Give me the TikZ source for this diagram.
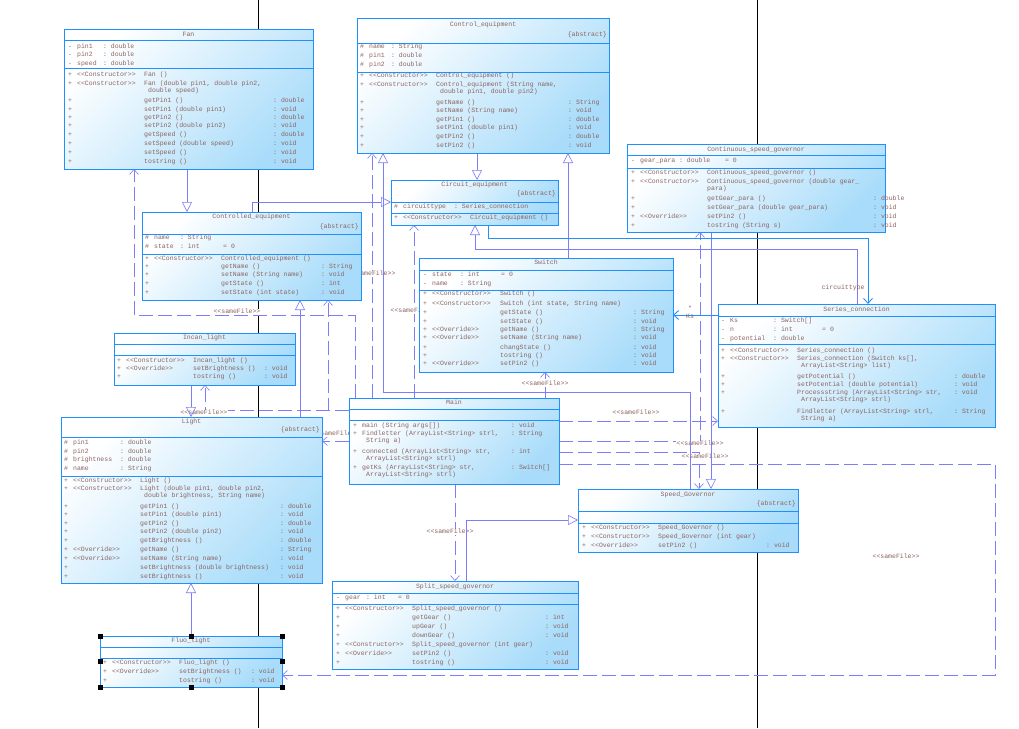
\documentclass[tikz,border=0pt]{standalone}
\usepackage{fontspec}
\setmonofont{Liberation Mono}
\usetikzlibrary{arrows.meta,calc}

\definecolor{clsedge}{RGB}{30,144,255}
\definecolor{clsfill}{RGB}{168,220,250}
\definecolor{clstext}{RGB}{140,100,96}
\definecolor{relline}{RGB}{125,125,250}

% column widths of a class compartment
\newcommand{\setcols}[3]{\def\stw{#1}\def\nmw{#2}\def\atw{#3}}
\newcommand{\mrow}[4]{\makebox[9pt][l]{#1}\makebox[\stw pt][l]{#2}\makebox[\nmw pt][l]{#3}#4}
\newcommand{\arow}[3]{\makebox[9pt][l]{#1}\makebox[\atw pt][l]{#2}#3}

\tikzset{
  cls/.style={draw=clsedge, line width=0.9pt, shading=axis, top color=white,
    bottom color=clsfill, shading angle=45, inner sep=0pt, outer sep=0pt, anchor=north west},
  sep/.style={clsedge, line width=0.9pt},
  txt/.style={font=\ttfamily\fontsize{6.5}{7}\selectfont, text=clstext, inner sep=0pt,
    anchor=west, text height=4.6pt, text depth=1.3pt},
  ttl/.style={txt, anchor=center},
  abst/.style={txt, anchor=east},
  lbl/.style={txt, anchor=center, fill=white, inner sep=0.5pt},
  gen/.style={relline, line width=0.6pt, -{Triangle[open, length=10pt, width=10pt]}},
  dep/.style={relline, line width=0.6pt, dash pattern=on 14pt off 5pt,
    -{Straight Barb[length=5pt, width=9pt]}},
  asc/.style={clsedge, line width=0.9pt, -{Straight Barb[length=5pt, width=9pt]}},
}

\begin{document}
\begin{tikzpicture}[x=1pt, y=-1pt]
  \path[use as bounding box, fill=white] (0,0) rectangle (1019,728);

  % page breaks
  \draw[black, line width=0.8pt] (258,0) -- (258,728);
  \draw[black, line width=0.8pt] (757,0) -- (757,728);

  % class frames (relations are drawn behind them)
  \path (64,29) coordinate (fan) (357,18) coordinate (ctrl) (627,144) coordinate (cont)
        (391,180) coordinate (circ) (142,212) coordinate (ctld) (419,258) coordinate (sw)
        (718,304) coordinate (ser) (114,333) coordinate (incan) (61,417) coordinate (light)
        (349,398) coordinate (main) (578,489) coordinate (spd) (332,581) coordinate (split)
        (100,636) coordinate (fluo);

  % Dependencies <<sameFile>>
  \draw[dep] (355,398) -- (355,315) -- (134,315) -- (134,169);
  \node[lbl] (d-fan) at (237,312) {<<sameFile>>};
  \draw[dep] (372,398) -- (372,153);
  \node[lbl] (d-ctrl) at (372,274) {<<sameFile>>};
  \draw[dep] (414,398) -- (414,225);
  \node[lbl] (d-circ) at (414,311) {<<sameFile>>};
  \draw[dep] (545,398) -- (545,372);
  \node[lbl] (d-sw) at (545,384) {<<sameFile>>};
  \draw[dep] (349,410) -- (328,410) -- (328,300);
  \draw[dep] (349,410) -- (205,410) -- (205,385);
  \node[lbl] (d-incan) at (204,413) {<<sameFile>>};
  \draw[dep] (349,441) -- (322,441);
  \node[lbl] (d-light) at (336,434) {<<sameFile>>};
  \draw[dep] (455,484) -- (455,581);
  \node[lbl] (d-split) at (450,532) {<<sameFile>>};
  \draw[dep] (559,421) -- (718,421);
  \node[lbl] (d-ser) at (636,413) {<<sameFile>>};
  \draw[dep] (559,441) -- (700,441) -- (700,232);
  \node[lbl] (d-cont) at (700,444) {<<sameFile>>};
  \draw[dep] (559,452) -- (699,452) -- (699,489);
  \node[lbl] (d-spd) at (705,457) {<<sameFile>>};
  \draw[dep] (559,464) -- (995,464) -- (995,675) -- (282,675);
  \node[lbl] (d-fluo) at (896,557) {<<sameFile>>};

  % Generalizations
  \draw[gen] (187,169) -- (187,212);
  \draw[gen] (252,212) |- (391,202);
  \draw[gen] (477,153) -- (477,180);
  \draw[gen] (568,258) -- (568,153);
  \draw[gen] (857,304) -- (857,249) -- (475,249) -- (475,225);
  \draw[gen] (300,417) -- (300,300);
  \draw[gen] (690,489) -- (690,392) -- (383,392) -- (383,153);
  \draw[gen] (711,232) -- (711,489);
  \draw[gen] (191,385) -- (191,417);
  \draw[gen] (191,636) -- (191,583);
  \draw[gen] (466,581) -- (466,520) -- (578,520);

  % Associations
  \draw[asc] (488,225) -- (488,238) -- (868,238) -- (868,304);
  \node[txt, anchor=center] (l-ct) at (843,288) {circuittype};
  \draw[asc] (718,315) -- (673,315);
  \node[txt, anchor=center] (l-m) at (690,309) {*};
  \node[txt, anchor=center] (l-ks) at (690,317) {Ks};

  % Fan
  \node[cls, minimum width=249, minimum height=140] (fan) at (fan) {};
  \draw[sep] (fan.west |- 0,40) -- (fan.east |- 0,40);
  \draw[sep] (fan.west |- 0,68) -- (fan.east |- 0,68);
  \node[ttl] (fan-t) at (188.5,34.5) {Fan};
  \setcols{67}{129}{26}
  \node[txt] (fan-a1) at (68,46.5) {\arow{-}{pin1}{: double}};
  \node[txt] (fan-a2) at (68,55) {\arow{-}{pin2}{: double}};
  \node[txt] (fan-a3) at (68,63.5) {\arow{-}{speed}{: double}};
  \node[txt] (fan-m1) at (68,74.7) {\mrow{+}{<<Constructor>>}{Fan ()}{}};
  \node[txt] (fan-m2) at (68,84) {\mrow{+}{<<Constructor>>}{Fan (double pin1, double pin2,}{}};
  \node[txt] (fan-m3) at (68,91) {\mrow{}{}{\hspace{4pt}double speed)}{}};
  \node[txt] (fan-m4) at (68,100.7) {\mrow{+}{}{getPin1 ()}{: double}};
  \node[txt] (fan-m5) at (68,109.7) {\mrow{+}{}{setPin1 (double pin1)}{: void}};
  \node[txt] (fan-m6) at (68,118.3) {\mrow{+}{}{getPin2 ()}{: double}};
  \node[txt] (fan-m7) at (68,126.3) {\mrow{+}{}{setPin2 (double pin2)}{: void}};
  \node[txt] (fan-m8) at (68,135.3) {\mrow{+}{}{getSpeed ()}{: double}};
  \node[txt] (fan-m9) at (68,144.3) {\mrow{+}{}{setSpeed (double speed)}{: void}};
  \node[txt] (fan-m10) at (68,153.3) {\mrow{+}{}{setSpeed ()}{: void}};
  \node[txt] (fan-m11) at (68,161.7) {\mrow{+}{}{tostring ()}{: void}};

  % Control_equipment
  \node[cls, minimum width=252, minimum height=135] (ctrl) at (ctrl) {};
  \draw[sep] (ctrl.west |- 0,43) -- (ctrl.east |- 0,43);
  \draw[sep] (ctrl.west |- 0,72) -- (ctrl.east |- 0,72);
  \node[ttl] (ctrl-t) at (483,25) {Control\_equipment};
  \node[abst] (ctrl-s) at (607,35) {\{abstract\}};
  \setcols{67}{132}{22}
  \node[txt] (ctrl-a1) at (360,47) {\arow{\#}{name}{: String}};
  \node[txt] (ctrl-a2) at (360,56) {\arow{\#}{pin1}{: double}};
  \node[txt] (ctrl-a3) at (360,65) {\arow{\#}{pin2}{: double}};
  \node[txt] (ctrl-m1) at (360,76) {\mrow{+}{<<Constructor>>}{Control\_equipment ()}{}};
  \node[txt] (ctrl-m2) at (360,85) {\mrow{+}{<<Constructor>>}{Control\_equipment (String name,}{}};
  \node[txt] (ctrl-m3) at (360,92) {\mrow{}{}{\hspace{4pt}double pin1, double pin2)}{}};
  \node[txt] (ctrl-m4) at (360,103) {\mrow{+}{}{getName ()}{: String}};
  \node[txt] (ctrl-m5) at (360,111) {\mrow{+}{}{setName (String name)}{: void}};
  \node[txt] (ctrl-m6) at (360,120) {\mrow{+}{}{getPin1 ()}{: double}};
  \node[txt] (ctrl-m7) at (360,128) {\mrow{+}{}{setPin1 (double pin1)}{: void}};
  \node[txt] (ctrl-m8) at (360,137) {\mrow{+}{}{getPin2 ()}{: double}};
  \node[txt] (ctrl-m9) at (360,146) {\mrow{+}{}{setPin2 ()}{: void}};

  % Continuous_speed_governor
  \node[cls, minimum width=258, minimum height=88] (cont) at (cont) {};
  \draw[sep] (cont.west |- 0,155) -- (cont.east |- 0,155);
  \draw[sep] (cont.west |- 0,168) -- (cont.east |- 0,168);
  \node[ttl] (cont-t) at (756,150) {Continuous\_speed\_governor};
  \setcols{67}{166}{39}
  \node[txt] (cont-a1) at (631,161) {\arow{-}{gear\_para}{\makebox[46pt][l]{: double}= 0}};
  \node[txt] (cont-m1) at (631,173) {\mrow{+}{<<Constructor>>}{Continuous\_speed\_governor ()}{}};
  \node[txt] (cont-m2) at (631,182) {\mrow{+}{<<Constructor>>}{Continuous\_speed\_governor (double gear\_}{}};
  \node[txt] (cont-m3) at (631,189) {\mrow{}{}{para)}{}};
  \node[txt] (cont-m4) at (631,199) {\mrow{+}{}{getGear\_para ()}{: double}};
  \node[txt] (cont-m5) at (631,208) {\mrow{+}{}{setGear\_para (double gear\_para)}{: void}};
  \node[txt] (cont-m6) at (631,217) {\mrow{+}{<<Override>>}{setPin2 ()}{: void}};
  \node[txt] (cont-m7) at (631,226) {\mrow{+}{}{tostring (String s)}{: void}};

  % Circuit_equipment
  \node[cls, minimum width=167, minimum height=45] (circ) at (circ) {};
  \draw[sep] (circ.west |- 0,202) -- (circ.east |- 0,202);
  \draw[sep] (circ.west |- 0,213) -- (circ.east |- 0,213);
  \node[ttl] (circ-t) at (474.5,185) {Circuit\_equipment};
  \node[abst] (circ-s) at (556,194) {\{abstract\}};
  \setcols{67}{100}{51}
  \node[txt] (circ-a1) at (394,207) {\arow{\#}{circuittype}{: Series\_connection}};
  \node[txt] (circ-m1) at (394,218) {\mrow{+}{<<Constructor>>}{Circuit\_equipment ()}{}};

  % Controlled_equipment
  \node[cls, minimum width=219, minimum height=88] (ctld) at (ctld) {};
  \draw[sep] (ctld.west |- 0,234) -- (ctld.east |- 0,234);
  \draw[sep] (ctld.west |- 0,254) -- (ctld.east |- 0,254);
  \node[ttl] (ctld-t) at (251.5,217) {Controlled\_equipment};
  \node[abst] (ctld-s) at (359,227) {\{abstract\}};
  \setcols{67}{100}{26}
  \node[txt] (ctld-a1) at (145,238) {\arow{\#}{name}{: String}};
  \node[txt] (ctld-a2) at (145,247) {\arow{\#}{state}{\makebox[43pt][l]{: int}= 0}};
  \node[txt] (ctld-m1) at (145,259) {\mrow{+}{<<Constructor>>}{Controlled\_equipment ()}{}};
  \node[txt] (ctld-m2) at (145,267) {\mrow{+}{}{getName ()}{: String}};
  \node[txt] (ctld-m3) at (145,275) {\mrow{+}{}{setName (String name)}{: void}};
  \node[txt] (ctld-m4) at (145,284) {\mrow{+}{}{getState ()}{: int}};
  \node[txt] (ctld-m5) at (145,293) {\mrow{+}{}{setState (int state)}{: void}};

  % Switch
  \node[cls, minimum width=254, minimum height=114] (sw) at (sw) {};
  \draw[sep] (sw.west |- 0,270) -- (sw.east |- 0,270);
  \draw[sep] (sw.west |- 0,290) -- (sw.east |- 0,290);
  \node[ttl] (sw-t) at (546,262.5) {Switch};
  \setcols{68}{133}{28}
  \node[txt] (sw-a1) at (423,275) {\arow{-}{state}{\makebox[41pt][l]{: int}= 0}};
  \node[txt] (sw-a2) at (423,284) {\arow{-}{name}{: String}};
  \node[txt] (sw-m1) at (423,294) {\mrow{+}{<<Constructor>>}{Switch ()}{}};
  \node[txt] (sw-m2) at (423,304) {\mrow{+}{<<Constructor>>}{Switch (int state, String name)}{}};
  \node[txt] (sw-m3) at (423,313) {\mrow{+}{}{getState ()}{: String}};
  \node[txt] (sw-m4) at (423,322) {\mrow{+}{}{setState ()}{: void}};
  \node[txt] (sw-m5) at (423,330) {\mrow{+}{<<Override>>}{getName ()}{: String}};
  \node[txt] (sw-m6) at (423,338) {\mrow{+}{<<Override>>}{setName (String name)}{: void}};
  \node[txt] (sw-m7) at (423,348) {\mrow{+}{}{changState ()}{: void}};
  \node[txt] (sw-m8) at (423,356) {\mrow{+}{}{tostring ()}{: void}};
  \node[txt] (sw-m9) at (423,364) {\mrow{+}{<<Override>>}{setPin2 ()}{: void}};

  % Series_connection
  \node[cls, minimum width=277, minimum height=123] (ser) at (ser) {};
  \draw[sep] (ser.west |- 0,316) -- (ser.east |- 0,316);
  \draw[sep] (ser.west |- 0,344) -- (ser.east |- 0,344);
  \node[ttl] (ser-t) at (856.5,310) {Series\_connection};
  \setcols{67}{157}{43}
  \node[txt] (ser-a1) at (721,321) {\arow{-}{Ks}{: Switch[]}};
  \node[txt] (ser-a2) at (721,330) {\arow{-}{n}{\makebox[49pt][l]{: int}= 0}};
  \node[txt] (ser-a3) at (721,339) {\arow{-}{potential}{: double}};
  \node[txt] (ser-m1) at (721,351) {\mrow{+}{<<Constructor>>}{Series\_connection ()}{}};
  \node[txt] (ser-m2) at (721,359) {\mrow{+}{<<Constructor>>}{Series\_connection (Switch ks[],}{}};
  \node[txt] (ser-m3) at (721,366) {\mrow{}{}{\hspace{4pt}ArrayList<String> list)}{}};
  \node[txt] (ser-m4) at (721,377) {\mrow{+}{}{getPotential ()}{: double}};
  \node[txt] (ser-m5) at (721,385) {\mrow{+}{}{setPotential (double potential)}{: void}};
  \node[txt] (ser-m6) at (721,393) {\mrow{+}{}{Processstring (ArrayList<String> str,}{: void}};
  \node[txt] (ser-m7) at (721,400) {\mrow{}{}{\hspace{4pt}ArrayList<String> strl)}{}};
  \node[txt] (ser-m8) at (721,412) {\mrow{+}{}{Findletter (ArrayList<String> strl,}{: String}};
  \node[txt] (ser-m9) at (721,419) {\mrow{}{}{\hspace{4pt}String a)}{}};

  % Incan_light
  \node[cls, minimum width=181, minimum height=52] (incan) at (incan) {};
  \draw[sep] (incan.west |- 0,344) -- (incan.east |- 0,344);
  \draw[sep] (incan.west |- 0,355) -- (incan.east |- 0,355);
  \node[ttl] (incan-t) at (204.5,338) {Incan\_light};
  \setcols{67}{71}{0}
  \node[txt] (incan-m1) at (117,361) {\mrow{+}{<<Constructor>>}{Incan\_light ()}{}};
  \node[txt] (incan-m2) at (117,369) {\mrow{+}{<<Override>>}{setBrightness ()}{: void}};
  \node[txt] (incan-m3) at (117,377) {\mrow{+}{}{tostring ()}{: void}};

  % Light
  \node[cls, minimum width=261, minimum height=166] (light) at (light) {};
  \draw[sep] (light.west |- 0,437) -- (light.east |- 0,437);
  \draw[sep] (light.west |- 0,476) -- (light.east |- 0,476);
  \node[ttl] (light-t) at (191.5,421.5) {Light};
  \node[abst] (light-s) at (320,430) {\{abstract\}};
  \setcols{67}{140}{47}
  \node[txt] (light-a1) at (64,443) {\arow{\#}{pin1}{: double}};
  \node[txt] (light-a2) at (64,452) {\arow{\#}{pin2}{: double}};
  \node[txt] (light-a3) at (64,460) {\arow{\#}{brightness}{: double}};
  \node[txt] (light-a4) at (64,469) {\arow{\#}{name}{: String}};
  \node[txt] (light-m1) at (64,481) {\mrow{+}{<<Constructor>>}{Light ()}{}};
  \node[txt] (light-m2) at (64,489) {\mrow{+}{<<Constructor>>}{Light (double pin1, double pin2,}{}};
  \node[txt] (light-m3) at (64,496) {\mrow{}{}{\hspace{4pt}double brightness, String name)}{}};
  \node[txt] (light-m4) at (64,507) {\mrow{+}{}{getPin1 ()}{: double}};
  \node[txt] (light-m5) at (64,515) {\mrow{+}{}{setPin1 (double pin1)}{: void}};
  \node[txt] (light-m6) at (64,524) {\mrow{+}{}{getPin2 ()}{: double}};
  \node[txt] (light-m7) at (64,532) {\mrow{+}{}{setPin2 (double pin2)}{: void}};
  \node[txt] (light-m8) at (64,541) {\mrow{+}{}{getBrightness ()}{: double}};
  \node[txt] (light-m9) at (64,550) {\mrow{+}{<<Override>>}{getName ()}{: String}};
  \node[txt] (light-m10) at (64,559) {\mrow{+}{<<Override>>}{setName (String name)}{: void}};
  \node[txt] (light-m11) at (64,568) {\mrow{+}{}{setBrightness (double brightness)}{: void}};
  \node[txt] (light-m12) at (64,577) {\mrow{+}{}{setBrightness ()}{: void}};

  % Main
  \node[cls, minimum width=210, minimum height=86] (main) at (main) {};
  \draw[sep] (main.west |- 0,409) -- (main.east |- 0,409);
  \draw[sep] (main.west |- 0,420) -- (main.east |- 0,420);
  \node[ttl] (main-t) at (454,403) {Main};
  \setcols{0}{149}{0}
  \node[txt] (main-m1) at (353,426) {\mrow{+}{}{main (String args[])}{: void}};
  \node[txt] (main-m2) at (353,434) {\mrow{+}{}{Findletter (ArrayList<String> strl,}{: String}};
  \node[txt] (main-m3) at (353,441) {\mrow{}{}{\hspace{4pt}String a)}{}};
  \node[txt] (main-m4) at (353,452) {\mrow{+}{}{connected (ArrayList<String> str,}{: int}};
  \node[txt] (main-m5) at (353,459) {\mrow{}{}{\hspace{4pt}ArrayList<String> strl)}{}};
  \node[txt] (main-m6) at (353,468) {\mrow{+}{}{getKs (ArrayList<String> str,}{: Switch[]}};
  \node[txt] (main-m7) at (353,475) {\mrow{}{}{\hspace{4pt}ArrayList<String> strl)}{}};

  % Speed_Governor
  \node[cls, minimum width=220, minimum height=63] (spd) at (spd) {};
  \draw[sep] (spd.west |- 0,511) -- (spd.east |- 0,511);
  \draw[sep] (spd.west |- 0,523) -- (spd.east |- 0,523);
  \node[ttl] (spd-t) at (688,495) {Speed\_Governor};
  \node[abst] (spd-s) at (796,504) {\{abstract\}};
  \setcols{67}{108}{0}
  \node[txt] (spd-m1) at (582,528) {\mrow{+}{<<Constructor>>}{Speed\_Governor ()}{}};
  \node[txt] (spd-m2) at (582,537) {\mrow{+}{<<Constructor>>}{Speed\_Governor (int gear)}{}};
  \node[txt] (spd-m3) at (582,546) {\mrow{+}{<<Override>>}{setPin2 ()}{: void}};

  % Split_speed_governor
  \node[cls, minimum width=246, minimum height=88] (split) at (split) {};
  \draw[sep] (split.west |- 0,593) -- (split.east |- 0,593);
  \draw[sep] (split.west |- 0,604) -- (split.east |- 0,604);
  \node[ttl] (split-t) at (455,587) {Split\_speed\_governor};
  \setcols{67}{133}{21}
  \node[txt] (split-a1) at (336,598) {\arow{-}{gear}{\makebox[32pt][l]{: int}= 0}};
  \node[txt] (split-m1) at (336,609) {\mrow{+}{<<Constructor>>}{Split\_speed\_governor ()}{}};
  \node[txt] (split-m2) at (336,618) {\mrow{+}{}{getGear ()}{: int}};
  \node[txt] (split-m3) at (336,627) {\mrow{+}{}{upGear ()}{: void}};
  \node[txt] (split-m4) at (336,636) {\mrow{+}{}{downGear ()}{: void}};
  \node[txt] (split-m5) at (336,645) {\mrow{+}{<<Constructor>>}{Split\_speed\_governor (int gear)}{}};
  \node[txt] (split-m6) at (336,654) {\mrow{+}{<<Override>>}{setPin2 ()}{: void}};
  \node[txt] (split-m7) at (336,663) {\mrow{+}{}{tostring ()}{: void}};

  % Fluo_light
  \node[cls, minimum width=182, minimum height=51] (fluo) at (fluo) {};
  \draw[sep] (fluo.west |- 0,647) -- (fluo.east |- 0,647);
  \draw[sep] (fluo.west |- 0,658) -- (fluo.east |- 0,658);
  \node[ttl] (fluo-t) at (191,641) {Fluo\_light};
  \setcols{67}{72}{0}
  \node[txt] (fluo-m1) at (103,663) {\mrow{+}{<<Constructor>>}{Fluo\_light ()}{}};
  \node[txt] (fluo-m2) at (103,672) {\mrow{+}{<<Override>>}{setBrightness ()}{: void}};
  \node[txt] (fluo-m3) at (103,681) {\mrow{+}{}{tostring ()}{: void}};
  \foreach \p in {fluo.north west, fluo.north, fluo.north east, fluo.west,
                  fluo.east, fluo.south west, fluo.south, fluo.south east}
    \fill[black] ($(\p)+(-2.5,-2.5)$) rectangle ++(5,5);
\end{tikzpicture}
\end{document}
